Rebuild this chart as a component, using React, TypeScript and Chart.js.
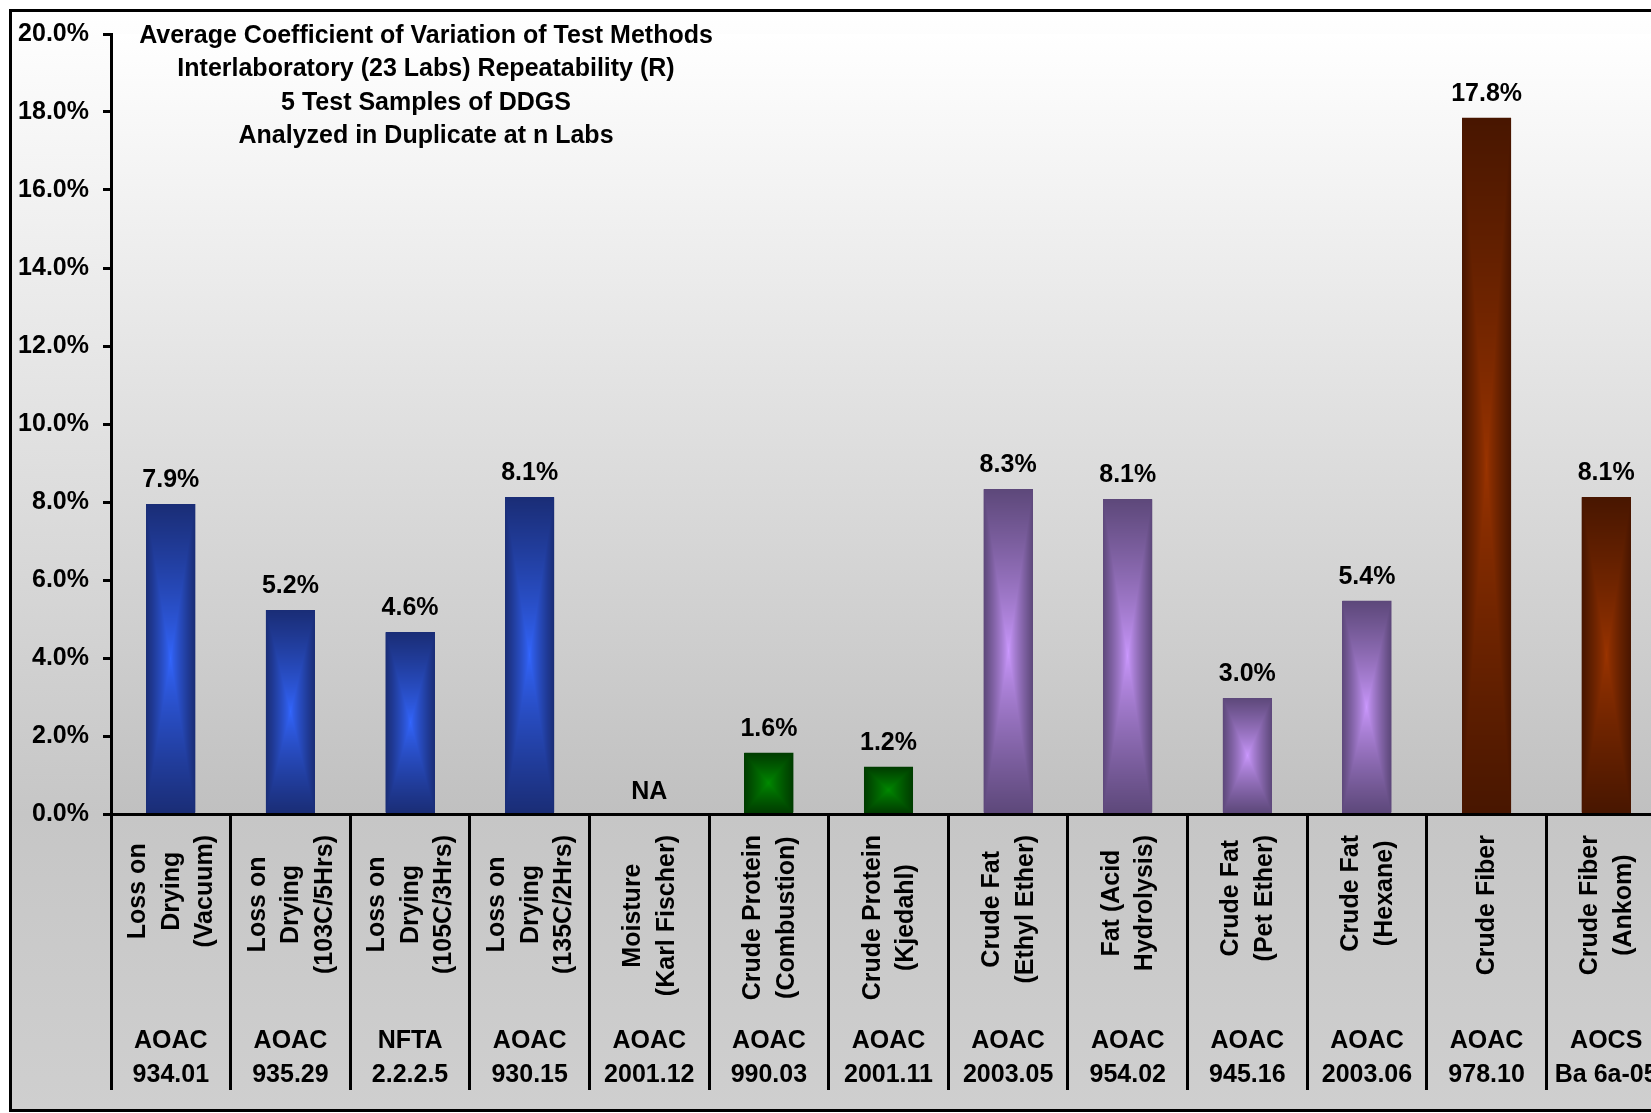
import React, { useEffect, useRef } from "react";
import { Chart, registerables } from "chart.js";

Chart.register(...registerables);

const FONT = "'Liberation Sans', Arial, Helvetica, sans-serif";

const TITLE_LINES = [
  "Average Coefficient of Variation of Test Methods",
  "Interlaboratory (23 Labs) Repeatability (R)",
  "5 Test Samples of DDGS",
  "Analyzed in Duplicate at n Labs",
];

const METHOD_NAMES: string[][] = [
  ["Loss on", "Drying", "(Vacuum)"],
  ["Loss on", "Drying", "(103C/5Hrs)"],
  ["Loss on", "Drying", "(105C/3Hrs)"],
  ["Loss on", "Drying", "(135C/2Hrs)"],
  ["Moisture", "(Karl Fischer)"],
  ["Crude Protein", "(Combustion)"],
  ["Crude Protein", "(Kjedahl)"],
  ["Crude Fat", "(Ethyl Ether)"],
  ["Fat (Acid", "Hydrolysis)"],
  ["Crude Fat", "(Pet Ether)"],
  ["Crude Fat", "(Hexane)"],
  ["Crude Fiber"],
  ["Crude Fiber", "(Ankom)"],
];

const METHOD_CODES: string[][] = [
  ["AOAC", "934.01"],
  ["AOAC", "935.29"],
  ["NFTA", "2.2.2.5"],
  ["AOAC", "930.15"],
  ["AOAC", "2001.12"],
  ["AOAC", "990.03"],
  ["AOAC", "2001.11"],
  ["AOAC", "2003.05"],
  ["AOAC", "954.02"],
  ["AOAC", "945.16"],
  ["AOAC", "2003.06"],
  ["AOAC", "978.10"],
  ["AOCS", "Ba 6a-05"],
];

// Average CV (%) per method; null = not available
const CV_VALUES: (number | null)[] = [7.95, 5.23, 4.66, 8.12, null, 1.57, 1.21, 8.33, 8.07, 2.97, 5.47, 17.85, 8.12];
const CV_LABELS: string[] = ["7.9%", "5.2%", "4.6%", "8.1%", "NA", "1.6%", "1.2%", "8.3%", "8.1%", "3.0%", "5.4%", "17.8%", "8.1%"];
const GROUPS: string[] = [
  "moisture", "moisture", "moisture", "moisture", "moisture",
  "protein", "protein",
  "fat", "fat", "fat", "fat",
  "fiber", "fiber",
];
const GROUP_COLORS: Record<string, { edge: number[]; center: number[] }> = {
  moisture: { edge: [0x1a, 0x2d, 0x76], center: [0x33, 0x66, 0xff] },
  protein: { edge: [0x00, 0x3c, 0x00], center: [0x00, 0x8c, 0x00] },
  fat: { edge: [0x5d, 0x48, 0x7a], center: [0xcc, 0x99, 0xff] },
  fiber: { edge: [0x48, 0x16, 0x00], center: [0x9c, 0x34, 0x00] },
};

const Y_MIN = 0;
const Y_MAX = 20;
const Y_STEP = 2;

const CANVAS_W = 1700;
const CANVAS_H = 1113;

const toHex = (c: number[]) => "rgb(" + c.join(",") + ")";

const customPlugin = {
  id: "custom",
  beforeDraw(chart: any) {
    const ctx = chart.ctx;
    const { left, top, right, bottom } = chart.chartArea;
    ctx.save();
    ctx.fillStyle = "#ffffff";
    ctx.fillRect(0, 0, CANVAS_W, CANVAS_H);
    const g = ctx.createLinearGradient(0, 10, 0, 1111);
    g.addColorStop(0, "#ffffff");
    g.addColorStop(0.73, "#c6c6c6");
    g.addColorStop(1, "#cfcfcf");
    ctx.fillStyle = g;
    ctx.fillRect(10, 10, CANVAS_W, 1101);
    const g2 = ctx.createLinearGradient(0, top, 0, bottom);
    g2.addColorStop(0, "#ffffff");
    g2.addColorStop(1, "#c0c0c0");
    ctx.fillStyle = g2;
    ctx.fillRect(left, top, right - left, bottom - top);
    ctx.restore();
  },
  afterDatasetsDraw(chart: any) {
    const ctx = chart.ctx;
    const meta = chart.getDatasetMeta(0);
    meta.data.forEach((el: any, i: number) => {
      if (CV_VALUES[i] == null) return;
      const { x, y, base, width } = el.getProps(["x", "y", "base", "width"], true);
      const l = Math.round(x - width / 2);
      const r = Math.round(x + width / 2);
      const t = Math.round(y);
      const b = Math.round(base);
      const w = r - l;
      const h = b - t;
      if (w <= 0 || h <= 0) return;
      const col = GROUP_COLORS[GROUPS[i]];
      const img = ctx.createImageData(w, h);
      const hw = w / 2;
      const hh = h / 2;
      for (let py = 0; py < h; py++) {
        const dy = Math.abs(py + 0.5 - hh) / hh;
        for (let px = 0; px < w; px++) {
          const dx = Math.abs(px + 0.5 - hw) / hw;
          let f = Math.max(dx, dy);
          f = Math.min(1, f);
          const k = Math.pow(f, 0.8);
          const idx = (py * w + px) * 4;
          img.data[idx] = col.center[0] + (col.edge[0] - col.center[0]) * k;
          img.data[idx + 1] = col.center[1] + (col.edge[1] - col.center[1]) * k;
          img.data[idx + 2] = col.center[2] + (col.edge[2] - col.center[2]) * k;
          img.data[idx + 3] = 255;
        }
      }
      ctx.putImageData(img, l, t);
    });
  },
  afterDraw(chart: any) {
    const ctx = chart.ctx;
    const xScale = chart.scales.x;
    const yScale = chart.scales.y;
    ctx.save();
    ctx.fillStyle = "#000";
    ctx.font = "bold 25px " + FONT;

    // value labels
    const meta = chart.getDatasetMeta(0);
    ctx.textAlign = "center";
    ctx.textBaseline = "alphabetic";
    meta.data.forEach((el: any, i: number) => {
      const v = CV_VALUES[i];
      const cx = xScale.getPixelForValue(i);
      const topY = v == null ? yScale.getPixelForValue(0) : el.getProps(["y"], true).y;
      ctx.fillText(CV_LABELS[i], cx, topY - (v == null ? 15 : 17));
    });

    // title
    TITLE_LINES.forEach((line, i) => {
      ctx.fillText(line, 426, 43 + i * 33.3);
    });

    // category labels (rotated)
    const y0 = yScale.getPixelForValue(0);
    METHOD_NAMES.forEach((lines, i) => {
      const cx = xScale.getPixelForValue(i);
      let maxW = 0;
      lines.forEach((ln) => {
        maxW = Math.max(maxW, ctx.measureText(ln).width);
      });
      const cy = y0 + 21 + maxW / 2;
      ctx.save();
      ctx.translate(cx, cy);
      ctx.rotate(-Math.PI / 2);
      ctx.textAlign = "center";
      ctx.textBaseline = "middle";
      lines.forEach((ln, j) => {
        ctx.fillText(ln, 0, (j - (lines.length - 1) / 2) * 33.5 + 1);
      });
      ctx.restore();
    });

    // method codes
    ctx.textAlign = "center";
    ctx.textBaseline = "alphabetic";
    METHOD_CODES.forEach((lines, i) => {
      const cx = xScale.getPixelForValue(i);
      lines.forEach((ln, j) => {
        ctx.fillText(ln, cx, y0 + 234 + j * 34);
      });
    });

    // outer border
    ctx.strokeStyle = "#000";
    ctx.lineWidth = 3;
    ctx.strokeRect(10.5, 10.5, CANVAS_W, 1100);
    ctx.restore();
  },
};

export default function App() {
  const canvasRef = useRef<HTMLCanvasElement | null>(null);

  useEffect(() => {
    const canvas = canvasRef.current;
    if (!canvas) return;
    const chart = new Chart(canvas, {
      type: "bar",
      data: {
        labels: METHOD_NAMES.map((l) => l.join(" ")),
        datasets: [
          {
            data: CV_VALUES as any,
            backgroundColor: GROUPS.map((g) => toHex(GROUP_COLORS[g].edge)),
            borderWidth: 0,
            barPercentage: 0.41,
            categoryPercentage: 1,
          },
        ],
      },
      options: {
        responsive: false,
        animation: false,
        devicePixelRatio: 1,
        layout: { padding: { left: 0, top: 34, right: 34, bottom: 23 } },
        plugins: {
          legend: { display: false },
          title: { display: false },
          tooltip: { enabled: false },
        },
        scales: {
          x: {
            offset: true,
            grid: {
              offset: true,
              drawOnChartArea: false,
              drawTicks: true,
              tickLength: 276,
              color: "#000",
              lineWidth: 3,
            },
            border: { display: true, color: "#000", width: 3 },
            ticks: { display: false },
            afterFit: (scale: any) => {
              scale.height = 276;
            },
          },
          y: {
            min: Y_MIN,
            max: Y_MAX,
            ticks: {
              stepSize: Y_STEP,
              color: "#000",
              padding: 14,
              font: { family: FONT, size: 25, weight: "bold" },
              callback: (v: any) => Number(v).toFixed(1) + "%",
            },
            grid: {
              drawOnChartArea: false,
              drawTicks: true,
              tickLength: 8,
              color: "#000",
              lineWidth: 3,
            },
            border: { display: true, color: "#000", width: 3 },
            afterFit: (scale: any) => {
              scale.width = 111;
            },
          },
        },
      },
      plugins: [customPlugin],
    });
    return () => chart.destroy();
  }, []);

  return (
    <div
      style={{
        position: "fixed",
        left: 0,
        top: 0,
        width: 1651,
        height: 1113,
        overflow: "hidden",
        background: "#fff",
      }}
    >
      <canvas
        ref={canvasRef}
        width={CANVAS_W}
        height={CANVAS_H}
        style={{ display: "block", width: CANVAS_W, height: CANVAS_H }}
      />
    </div>
  );
}
